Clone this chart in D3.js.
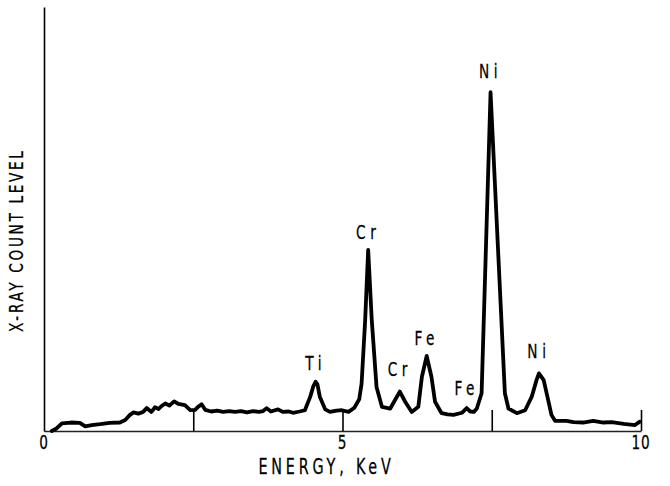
<!DOCTYPE html>
<html>
<head>
<meta charset="utf-8">
<script src="https://cdn.jsdelivr.net/npm/d3@7"></script>
<style>
  html, body { margin: 0; padding: 0; background: #fff; }
  svg text { font-family: "DejaVu Sans Condensed", "Liberation Sans Narrow", "DejaVu Sans", sans-serif; fill: #000; stroke: #000; stroke-width: 0.25; }
</style>
</head>
<body>
<svg id="chart" width="670" height="486"></svg>
<script>
// Energy (keV) of each spectrum sample
const energy = [
  0.13, 0.21, 0.30, 0.45, 0.60, 0.69, 0.80, 0.94, 1.10, 1.27,
  1.36, 1.44, 1.50, 1.58, 1.66, 1.72, 1.80, 1.86, 1.92, 1.97,
  2.03, 2.10, 2.18, 2.25, 2.36, 2.45, 2.53, 2.58, 2.64, 2.70,
  2.80, 2.90, 3.00, 3.10, 3.20, 3.30, 3.40, 3.50, 3.60, 3.67,
  3.73, 3.80, 3.92, 4.00, 4.10, 4.17, 4.28, 4.37, 4.46, 4.51,
  4.55, 4.58, 4.62, 4.71, 4.79, 4.90, 4.99, 5.10, 5.20, 5.28,
  5.32, 5.38, 5.43, 5.49, 5.57, 5.66, 5.80, 5.88, 5.96, 6.05,
  6.16, 6.27, 6.33, 6.41, 6.49, 6.55, 6.66, 6.76, 6.86, 7.00,
  7.08, 7.14, 7.20, 7.25, 7.33, 7.48, 7.72, 7.78, 7.92, 8.06,
  8.17, 8.25, 8.29, 8.37, 8.45, 8.50, 8.56, 8.75, 8.87, 9.03,
  9.20, 9.37, 9.51, 9.71, 9.90, 9.98
];
// X-ray count level (relative units, axis top = 100)
const counts = [
  0.0, 0.6, 1.8, 2.0, 1.9, 1.1, 1.4, 1.6, 1.9, 2.0,
  2.6, 3.8, 4.4, 4.1, 4.5, 5.4, 4.5, 5.6, 5.2, 5.9,
  6.5, 6.0, 7.0, 6.4, 6.1, 4.9, 5.0, 5.7, 6.3, 5.0,
  4.6, 4.8, 4.5, 4.7, 4.5, 4.7, 4.4, 4.7, 4.5, 4.7,
  5.4, 4.6, 5.1, 4.5, 4.6, 4.3, 4.6, 4.9, 8.1, 10.5,
  11.6, 11.0, 8.1, 5.1, 4.5, 4.8, 4.9, 4.5, 5.5, 7.5,
  11.2, 26.2, 42.7, 26.2, 10.4, 5.7, 5.3, 7.3, 9.3, 6.9,
  4.5, 5.7, 12.8, 17.7, 12.8, 6.9, 4.2, 3.9, 3.8, 4.3,
  5.4, 4.6, 4.5, 5.3, 8.9, 79.9, 8.9, 5.3, 4.2, 4.9,
  8.1, 12.0, 13.6, 12.0, 7.0, 3.8, 2.4, 2.4, 2.1, 2.0,
  2.4, 2.0, 2.1, 1.7, 1.4, 2.2
];
// Peak labels
const peakNames  = ["Ti", "Cr", "Cr", "Fe", "Fe", "Ni", "Ni"];
const peakEnergy = [4.55, 5.43, 5.96, 6.41, 7.08, 7.48, 8.29];
const peakLevel  = [14.4, 45.4, 12.9, 20.4, 8.6, 83.3, 17.2];
// Axis ticks
const labelTicks = [0, 5, 10];
const markTicks  = [2.5, 5, 7.5, 10];

const svg = d3.select("#chart");
const x = d3.scaleLinear().domain([0, 10]).range([44, 641]);
const y = d3.scaleLinear().domain([0, 100]).range([431, 7]);
const SX = 0.76; // horizontal squeeze for the narrow lettering

function narrowText(sel) {
  return sel.attr("text-anchor", "middle");
}

// baseline axis (line only)
svg.append("g")
  .attr("transform", `translate(0,${y(0)})`)
  .call(d3.axisBottom(x).tickValues(labelTicks).tickSize(0).tickFormat(""))
  .call(g => g.select(".domain").attr("stroke", "#222").attr("stroke-width", 1.3));

// tick labels
svg.append("g").selectAll("text")
  .data(labelTicks)
  .join("text")
  .attr("transform", d => `translate(${x(d)},${y(0) + 18}) scale(${SX},1)`)
  .call(narrowText)
  .attr("font-size", 20)
  .attr("letter-spacing", 1)
  .text(d => d3.format("d")(d));

// upward tick marks
svg.append("g")
  .attr("transform", `translate(0,${y(0)})`)
  .call(d3.axisBottom(x).tickValues(markTicks).tickSizeInner(-21).tickSizeOuter(0).tickFormat(""))
  .call(g => g.select(".domain").remove())
  .call(g => g.selectAll("line").attr("stroke", "#000").attr("stroke-width", 1.6));

// left axis
svg.append("g")
  .attr("transform", `translate(${x(0)},0)`)
  .call(d3.axisLeft(y).tickValues([]).tickSizeOuter(0))
  .call(g => g.select(".domain").attr("stroke", "#000").attr("stroke-width", 1.6));

// spectrum
const pts = energy.map((e, i) => [e, counts[i]]);
svg.append("path")
  .datum(pts)
  .attr("fill", "none")
  .attr("stroke", "#000")
  .attr("stroke-width", 3.8)
  .attr("stroke-linejoin", "round")
  .attr("stroke-linecap", "round")
  .attr("d", d3.line().x(d => x(d[0])).y(d => y(d[1])));

// peak labels
svg.append("g").selectAll("text")
  .data(peakNames)
  .join("text")
  .attr("transform", (d, i) => `translate(${x(peakEnergy[i])},${y(peakLevel[i])}) scale(${SX},1)`)
  .call(narrowText)
  .attr("font-size", 20)
  .attr("letter-spacing", 6)
  .text(d => d);

// axis titles
svg.append("text")
  .attr("transform", `translate(${x(5) - 16},474) scale(${SX},1)`)
  .call(narrowText)
  .attr("font-size", 21)
  .attr("letter-spacing", 5)
  .text("ENERGY, KeV");

svg.append("text")
  .attr("transform", `translate(23,${y(45)}) rotate(-90) scale(${SX},1)`)
  .call(narrowText)
  .attr("font-size", 20)
  .attr("letter-spacing", 3.5)
  .text("X-RAY COUNT LEVEL");
</script>
</body>
</html>
